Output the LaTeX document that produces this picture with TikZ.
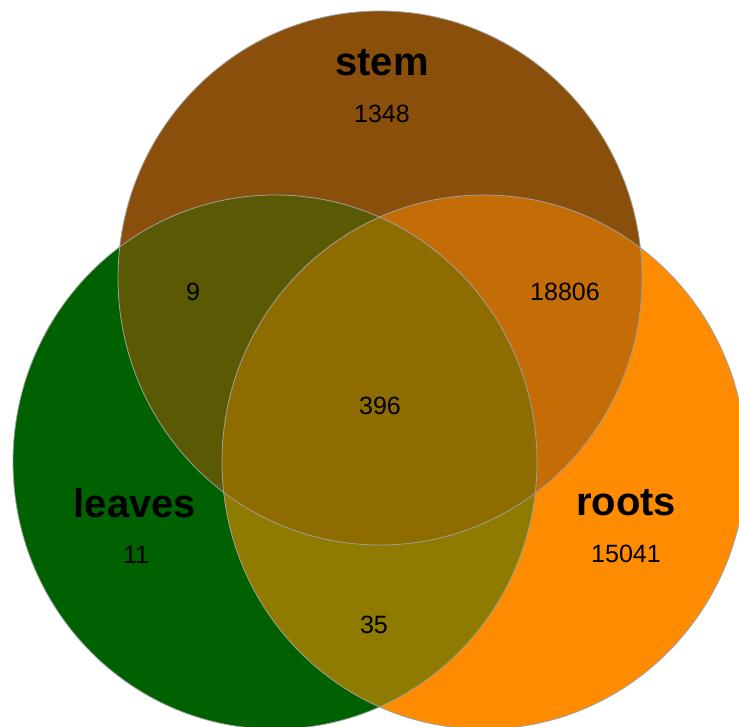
\documentclass[tikz,border=0pt]{standalone}
\usepackage{fontspec}
\setmainfont{Liberation Sans}
\usepackage{tikz}
\definecolor{figStem}{HTML}{8B4F0C}
\definecolor{figLeaves}{HTML}{006100}
\definecolor{figRoots}{HTML}{FF8C00}
\definecolor{figLS}{HTML}{5B5A04}
\definecolor{figSR}{HTML}{C46D07}
\definecolor{figLR}{HTML}{8F7B00}
\definecolor{figAll}{HTML}{8E6C00}
\definecolor{figEdge}{HTML}{A0A0A0}
\tikzset{
  venn/.style={x radius=262pt,y radius=267pt},
  setlabel/.style={anchor=base,font=\bfseries\fontsize{40}{46}\selectfont},
  count/.style={anchor=base,font=\fontsize{25}{30}\selectfont},
}

\begin{document}
\begin{tikzpicture}[x=1pt,y=-1pt]
    \clip (0,0) rectangle (739,726);
    \coordinate (stemC) at (380,278);
    \coordinate (leavesC) at (275,462);
    \coordinate (rootsC) at (484,462);
    % single sets
    \fill[figLeaves] (leavesC) circle[venn];
    \fill[figRoots] (rootsC) circle[venn];
    \fill[figStem] (stemC) circle[venn];
    % overlaps
    \begin{scope}
      \clip (leavesC) circle[venn];
      \fill[figLS] (stemC) circle[venn];
      \fill[figLR] (rootsC) circle[venn];
    \end{scope}
    \begin{scope}
      \clip (rootsC) circle[venn];
      \fill[figSR] (stemC) circle[venn];
    \end{scope}
    \begin{scope}
      \clip (leavesC) circle[venn];
      \clip (rootsC) circle[venn];
      \fill[figAll] (stemC) circle[venn];
    \end{scope}
    \foreach \c in {stemC,leavesC,rootsC}{\draw[figEdge,line width=0.8pt] (\c) circle[venn];}
    % labels
    \node[setlabel] (stem) at (382,75) {stem};
    \node[setlabel] (leaves) at (135,517) {leaves};
    \node[setlabel] (roots) at (626,515) {roots};
    \node[count] (nStem) at (382,122) {1348};
    \node[count] (nLeaves) at (136,563) {11};
    \node[count] (nRoots) at (626,562) {15041};
    \node[count] (nLS) at (193,300) {9};
    \node[count] (nSR) at (565,300) {18806};
    \node[count] (nAll) at (380,414) {396};
    \node[count] (nLR) at (374,633) {35};
  \end{tikzpicture}
\end{document}
